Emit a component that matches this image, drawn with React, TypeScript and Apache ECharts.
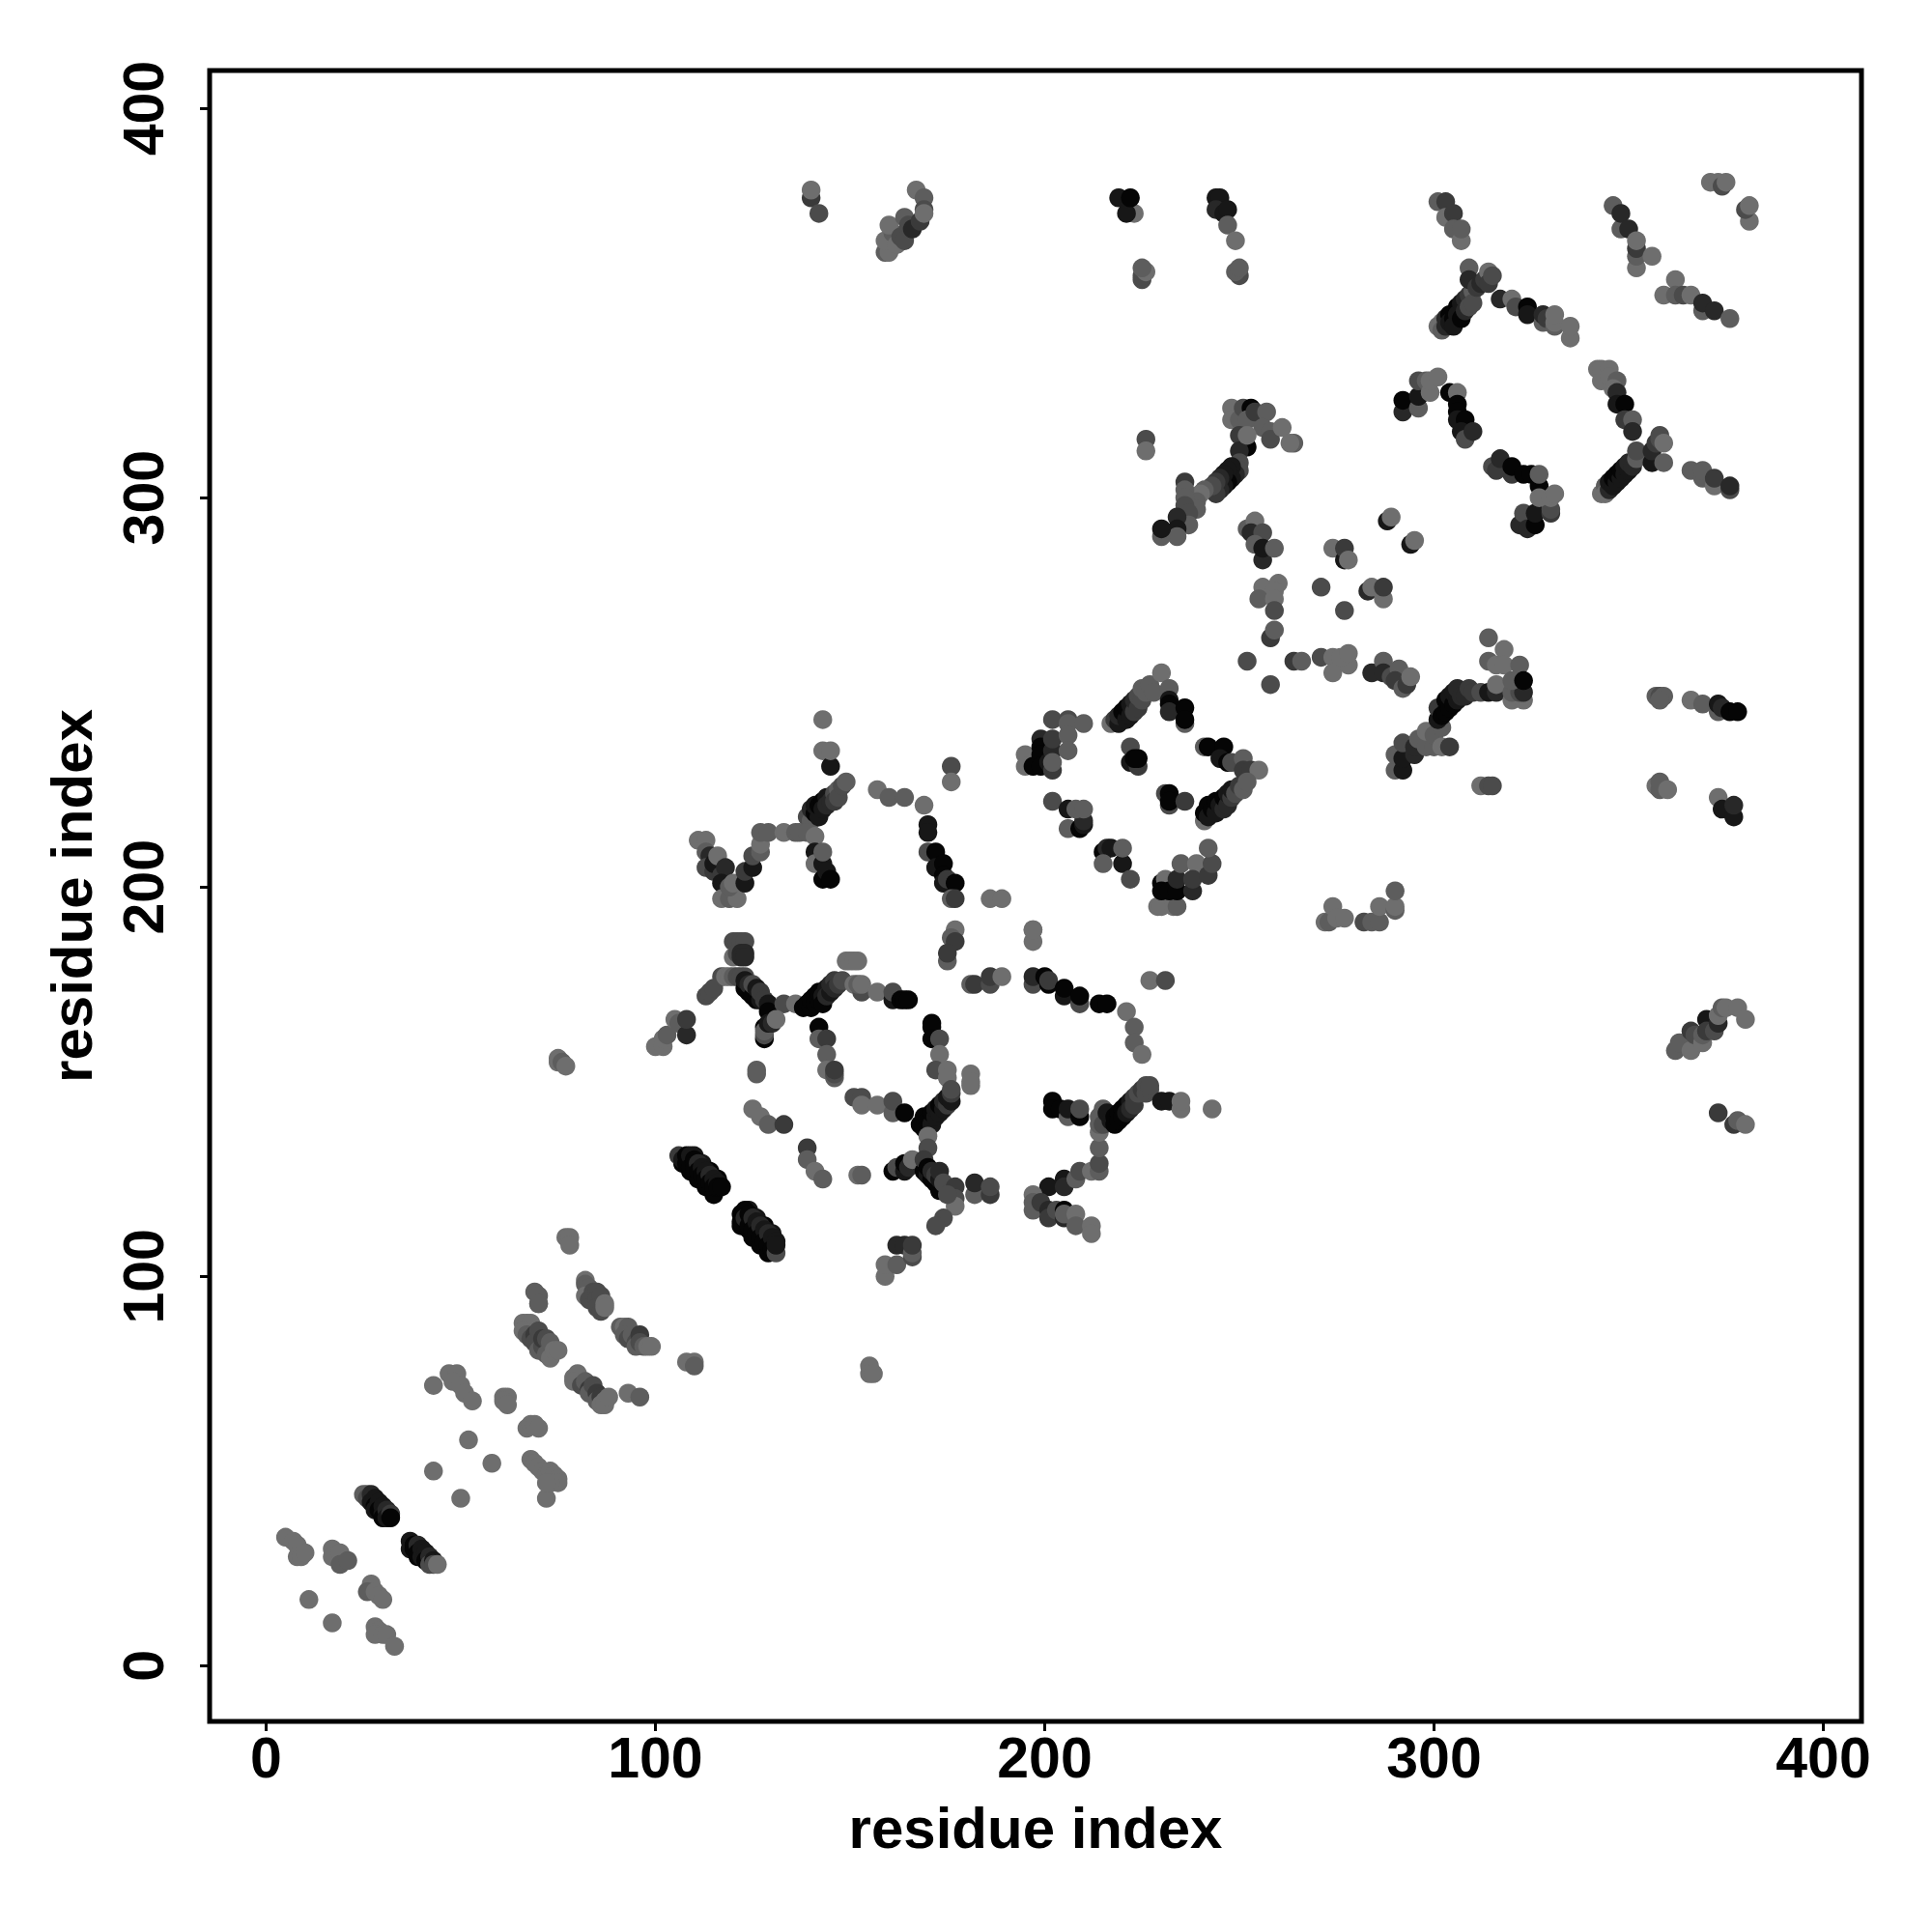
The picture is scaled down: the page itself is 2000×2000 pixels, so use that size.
import React, { useEffect, useRef } from "react";
import * as echarts from "echarts";

// every contact is [residue x, residue y, shade level]; 0 = strongest / darkest, 6 = weakest
const tickValues = [0, 100, 200, 300, 400];

const contactsN1 = [
  [11,17,6],[17,11,6],[50,43,6],[43,50,6],[58,52,6],[52,58,6],[72,43,6],
  [5,33,6],[7,32,6],[8,31,6],[8,28,6],[9,28,6],[10,29,6],
  [17,30,6],[17,28,6],[19,29,6],[19,26,5],[21,27,5],
  [27,21,6],[26,19,5],[28,19,6],[29,18,6],[30,17,6],
  [28,10,6],[29,9,6],[28,8,6],[30,8,6],[31,8,6],[33,5,6],
  [25,44,5],[26,44,5],[26,43,4],[27,44,2],[27,42,1],[28,43,1],[28,41,0],[28,40,1],[29,42,1],[29,40,0],[30,41,1],[30,39,1],[30,38,0],[31,40,2],[31,38,1],[32,39,3],[32,38,0],
  [37,32,1],[37,30,1],[38,31,0],[38,30,0],[39,31,2],[39,29,0],[39,28,0],[40,30,1],[40,28,1],[41,29,1],[41,27,0],[42,28,2],[42,26,4],[43,27,1],[43,26,4],[44,26,6],
  [68,53,6],[69,52,6],[70,51,6],[71,50,6],[72,49,6],[73,50,6],[74,49,6],[75,48,6],[75,47,6],[73,47,6],[72,47,6],
  [67,61,6],[68,62,6],[69,62,6],[70,61,6],[61,69,6],[62,69,6],[61,68,6],[62,67,6],
  [47,75,6],[49,75,6],[48,73,6],[50,72,6],[51,70,6],[53,68,6],[43,72,6],
];
const contactsN2 = [
  [79,74,6],[80,75,6],[79,73,6],[81,72,4],[82,73,5],[83,71,3],[83,70,5],[84,72,4],[85,70,3],[85,68,5],[86,69,3],[86,67,6],[87,68,6],[87,67,6],[88,69,6],
  [93,70,6],[96,69,5],[108,78,6],[110,78,6],[110,77,5],
  [66,88,6],[67,88,6],[68,88,6],[66,86,6],[67,85,5],[68,84,4],[69,85,3],[69,83,4],[70,86,4],[70,81,5],[71,82,4],[71,84,3],[72,84,4],[72,80,5],[73,83,5],[73,79,6],[74,81,6],[75,81,6],
  [91,87,5],[92,87,6],[93,87,5],[92,85,5],[93,84,4],[94,85,5],[95,83,4],[95,82,5],[96,85,3],[96,83,4],[97,82,5],[98,82,6],[99,82,6],
  [82,99,6],[82,98,5],[83,97,5],[82,95,6],[83,94,4],[84,96,4],[85,96,4],[85,94,4],[86,95,4],[85,92,4],[86,91,4],[87,93,6],[87,92,6],
  [69,96,5],[70,93,5],[77,110,6],[78,110,6],[78,108,6],[155,77,6],[155,75,6],[156,75,6],
];
const contactsHelixA = [
  [107,129,0],[109,127,0],[111,125,0],[113,123,0],[115,121,0],[110,131,1],[112,129,1],[114,127,0],[116,125,0],
  [106,131,3],[107,130,1],[108,131,0],[108,129,0],[109,131,1],[109,128,0],[110,130,0],[110,128,0],[111,129,2],[111,127,0],[112,128,1],[112,126,0],[113,127,1],[113,125,0],[114,126,2],[114,124,0],[115,125,1],[115,123,0],[116,124,1],[116,123,0],[117,123,0],
  [122,113,0],[124,112,0],[125,110,0],[127,108,0],[129,106,0],[124,117,1],[126,115,1],[128,113,0],[130,111,1],
  [122,116,0],[123,117,0],[122,114,0],[123,115,2],[124,116,0],[124,113,0],[125,115,2],[125,112,0],[126,114,1],[126,111,0],[127,113,2],[127,110,0],[128,112,1],[128,109,0],[129,111,2],[129,108,0],[130,110,1],[130,107,0],[131,106,4],[131,109,1],[131,108,1],
  [120,186,4],[121,186,4],[122,186,4],[123,186,4],[120,182,6],[121,183,4],[122,183,2],[123,183,2],[122,182,2],[123,182,2],
  [113,172,4],[114,173,4],[115,174,4],[117,177,4],[118,177,6],[119,177,6],[120,177,5],[121,177,4],[122,177,4],[123,177,4],
  [123,174,0],[123,176,1],[124,173,0],[124,175,2],[125,172,0],[125,175,4],[126,171,0],[126,174,1],[127,171,1],[127,173,3],[128,171,3],[129,170,1],[129,168,0],
  [133,170,4],[136,170,6],[128,164,0],[128,161,0],[128,162,4],[128,163,5],[129,165,1],[130,165,2],[131,166,6],[126,153,5],[126,152,5],
];
const contactsRingA = [
  [138,169,0],[139,170,0],[140,169,0],[140,171,0],[141,172,0],[141,170,0],[142,171,0],[142,173,0],[143,172,1],[143,170,0],[144,174,1],[144,172,2],[145,173,1],[145,175,2],[146,176,3],[146,174,2],[147,175,3],[148,176,4],
  [149,181,6],[150,181,6],[151,181,6],[152,181,6],[151,175,6],[153,173,4],[152,175,5],[153,175,6],[157,173,6],[161,171,1],[161,173,4],[163,171,0],[164,171,0],[165,171,0],
  [142,164,0],[142,161,5],[144,161,3],[144,157,5],[144,153,6],[146,151,5],[146,152,4],[146,153,3],
  [171,165,0],[171,164,0],[171,161,0],[173,161,4],[173,157,6],[172,153,4],[175,153,6],[175,151,6],[181,152,6],[181,149,6],[181,150,6],
  [177,189,6],[176,187,5],[177,186,3],[175,181,5],[175,183,3],[197,189,6],[197,186,6],
  [181,175,5],[182,175,3],[186,175,4],[186,177,3],[189,177,6],
  [197,175,4],[197,177,2],[200,177,0],[201,175,0],[201,176,3],[205,172,1],[205,174,0],[209,170,4],[209,172,0],[214,170,0],[216,170,0],[221,168,6],[223,164,5],[223,160,5],[225,157,6],
  [125,143,6],[127,141,6],[129,139,5],[133,139,3],[139,133,3],[139,130,5],[141,127,6],[143,125,5],[152,126,6],[153,126,5],
  [151,146,4],[153,146,4],[153,144,6],[157,144,6],[161,142,5],[161,145,4],[164,142,0],
];
const contactsRingB = [
  [168,139,0],[169,138,0],[169,141,0],[170,139,0],[170,140,0],[171,139,1],[171,142,0],[172,141,1],[172,143,1],[173,142,1],[173,144,0],[174,143,1],[174,145,2],[175,144,3],[175,146,1],[176,145,1],[176,147,3],[176,148,4],
  [170,136,6],[170,133,4],[161,127,0],[162,128,4],[164,127,1],[164,129,0],[165,128,2],[166,130,6],
  [169,127,0],[169,130,3],[170,126,1],[170,128,0],[171,125,0],[171,127,2],[172,124,0],[172,126,3],[173,122,0],[173,125,1],[173,127,2],[174,124,4],
  [177,123,3],[177,120,4],[177,118,6],[175,121,4],[174,115,4],[172,113,4],[182,121,5],[182,124,2],[186,121,3],[186,123,4],
  [159,100,6],[159,103,6],[162,103,5],[162,108,2],[164,108,2],[166,105,4],[166,106,5],[166,108,3],
  [100,159,6],[102,159,6],[102,161,6],[103,162,5],[105,166,6],[106,165,5],[108,162,2],[108,166,3],[75,155,6],[75,156,6],[76,155,5],[77,154,6],[70,95,5],[70,93,5],
  [201,123,1],[205,125,1],[205,123,2],[208,125,5],[209,127,4],[212,127,6],[214,127,5],[214,129,4],[214,133,5],[214,137,6],[214,139,5],
  [197,121,6],[197,119,5],[197,117,5],[199,119,3],[201,117,2],[201,115,3],[203,117,4],[205,117,0],[205,115,2],[205,116,5],[208,116,6],[208,113,5],[212,113,6],[212,111,6],
  [202,145,0],[202,143,0],[204,143,0],[206,141,5],[206,143,1],[209,141,0],[209,143,4],
  [214,141,5],[215,143,5],[215,139,4],[216,142,1],[217,140,1],[218,141,0],[218,139,0],[219,142,0],[219,140,0],[220,143,0],[220,141,0],[221,144,0],[221,142,1],[222,145,1],[222,143,2],[223,146,3],[223,144,3],[224,147,4],[225,148,3],[226,149,4],[226,147,4],[227,148,4],[227,149,4],
  [230,145,1],[232,145,1],[235,143,6],[235,145,6],[243,143,6],[227,176,6],[231,176,4],[186,197,6],[189,197,6],[197,189,6],
];
const contactsSquare = [
  [195,234,6],[195,231,6],[197,231,0],[199,238,2],[199,236,0],[199,234,0],[199,231,0],[201,232,1],[202,230,3],[202,235,2],[202,232,5],[202,238,3],[202,243,4],[206,243,4],[206,242,5],[206,239,5],[206,235,5],[210,242,5],
  [217,242,6],[218,243,3],[219,242,1],[219,244,2],[220,245,0],[221,243,1],[221,246,0],[222,244,1],[222,247,1],[223,245,3],[223,248,2],[224,246,3],[224,249,4],[225,248,4],[225,251,5],[226,250,5],[227,252,5],[228,250,5],[230,255,6],[232,251,5],[232,248,1],[232,247,0],[232,245,2],[236,246,0],[236,242,5],[236,243,0],
  [222,236,4],[222,232,1],[224,231,3],[223,233,0],[224,233,0],[231,224,4],[232,221,4],[232,224,0],[232,222,0],[236,222,3],
  [241,236,5],[242,236,0],[246,236,0],[245,233,1],[247,232,0],[248,232,4],[251,233,5],[251,230,3],[253,230,3],[255,230,6],
  [241,217,6],[241,219,0],[242,221,0],[242,218,1],[243,220,0],[244,219,1],[244,222,0],[245,221,1],[246,220,2],[246,223,0],[247,221,2],[247,224,1],[248,223,3],[248,225,1],[249,224,4],[250,226,3],[251,225,5],[252,227,5],
  [202,222,4],[206,220,1],[206,215,5],[209,215,0],[210,216,1],[210,217,2],[208,220,5],[210,220,5],
  [215,209,0],[216,210,2],[217,210,1],[215,206,5],[220,206,1],[220,210,5],[222,202,4],
  [229,195,6],[230,195,6],[233,195,6],[234,195,5],[230,201,0],[231,202,6],[230,199,0],[232,199,0],[234,199,0],[234,202,2],[238,199,2],[235,206,5],[239,206,6],[238,202,3],[242,203,3],[243,206,4],[242,210,5],
];
const contactsBlockC = [
  [143,243,6],[143,235,6],[145,231,1],[145,235,6],
  [139,218,4],[140,217,5],[140,220,2],[141,219,0],[141,221,1],[142,218,1],[142,221,0],[143,222,0],[143,220,1],[144,223,1],[144,221,2],[145,222,2],[146,224,4],[146,222,3],[147,225,5],[147,223,4],[148,226,4],[149,227,5],
  [111,212,6],[113,212,6],[113,209,5],[114,208,2],[113,205,4],[115,204,3],[115,206,1],[116,208,6],[117,203,3],[118,205,2],[117,201,1],[117,197,6],[119,197,5],[121,197,6],[119,200,5],[120,201,6],[123,201,1],[123,204,3],[125,205,1],[125,208,4],[127,209,5],[127,211,6],[127,214,5],[129,214,5],[133,214,6],[136,214,5],[137,214,5],[139,214,5],[141,213,6],
  [141,209,1],[141,206,6],[143,206,1],[143,209,5],[143,202,0],[144,204,1],[145,202,0],
  [157,225,6],[160,223,5],[164,223,5],[169,221,6],[170,216,1],[170,214,1],[170,209,4],[172,209,0],[172,205,1],[174,206,0],[174,203,0],[174,201,1],[175,202,3],[177,201,0],[176,197,5],[177,197,3],[176,231,4],[176,227,6],
  [226,315,4],[226,312,6],[248,323,6],[248,320,6],[250,320,5],[251,323,4],[253,323,0],[252,320,5],[254,322,3],[257,322,5],[256,318,5],[258,317,5],[258,315,4],[261,318,6],[264,314,5],[263,314,6],
  [250,316,3],[252,313,0],[250,312,2],[252,316,6],
  [250,309,4],[250,307,4],[249,306,2],[248,308,1],[248,305,1],[247,307,1],[247,304,0],[246,306,1],[246,303,1],[245,305,2],[245,302,2],[244,304,3],[244,301,3],[243,303,4],[241,302,5],[240,301,6],[239,299,5],[239,297,5],[236,304,3],[236,302,5],[236,300,5],[236,298,4],[237,296,4],[237,293,5],[234,295,2],[234,292,1],[234,290,5],[230,290,5],[230,292,1],
];
const contactsBlockD = [
  [252,292,5],[254,294,6],[253,291,2],[256,291,4],[254,288,5],[256,284,2],[256,287,1],[259,287,5],
  [256,277,6],[260,278,6],[259,276,6],[255,274,5],[259,274,6],[259,271,4],[258,264,3],[259,266,5],
  [252,258,4],[258,252,4],[264,258,3],[266,258,5],[271,277,4],[277,271,4],[271,259,4],[274,259,6],[274,255,6],[278,257,6],[276,259,6],[278,260,6],
  [274,287,6],[277,284,1],[277,287,3],[278,284,6],[283,276,2],[284,277,6],[287,274,6],[287,277,3],[288,294,1],[289,295,6],[294,288,1],[295,289,6],
  [284,255,2],[287,258,5],[287,255,2],[289,254,4],[291,256,5],[290,253,3],[292,251,5],[293,252,3],[294,254,6],
  [290,230,5],[292,230,1],[290,234,5],[292,233,1],[292,237,4],[295,234,2],[295,236,2],[296,238,5],[298,236,5],[298,240,6],[300,236,5],[300,239,5],[302,241,5],[302,236,6],[304,236,3],
  [301,243,1],[301,246,3],[302,244,0],[303,245,0],[303,248,0],[304,246,0],[304,249,1],[305,247,0],[305,250,1],[306,248,1],[306,251,2],[307,249,2],[308,249,2],[309,251,3],[310,250,3],
  [314,264,5],[318,261,6],[314,258,5],[316,257,6],[318,257,6],[322,257,5],[312,250,4],[314,250,1],[316,250,2],[316,252,6],
  [320,248,6],[323,248,6],[320,250,5],[322,250,4],[323,250,2],[320,253,5],[323,253,0],[312,226,6],[314,226,4],[315,226,4],
];
const contactsBlockE = [
  [301,376,5],[303,376,3],[303,372,6],[305,373,3],[305,369,5],[307,366,6],[307,369,5],
  [301,344,6],[302,345,6],[302,343,5],[303,346,2],[303,344,2],[304,347,0],[304,345,1],[305,346,0],[305,344,1],[306,349,0],[306,347,1],[307,350,1],[307,346,0],[308,348,2],[308,351,2],[309,352,3],[309,349,4],[310,353,5],[310,350,4],[309,359,5],[309,356,2],[311,354,3],[312,355,2],[313,356,3],[314,358,6],[314,355,3],[315,357,4],
  [317,351,2],[320,351,6],[321,349,4],[324,349,0],[324,347,1],[328,345,5],[328,347,2],[329,346,3],[331,344,5],[331,345,6],[331,347,6],[335,341,6],[335,344,6],
  [292,322,2],[292,325,0],[296,323,5],[296,326,1],[296,330,4],[298,330,5],[299,327,6],[299,330,6],[301,331,6],
  [304,327,0],[306,327,6],[306,324,0],[306,322,0],[306,320,1],[308,320,0],[307,317,1],[308,315,4],[310,317,2],
  [315,308,4],[316,307,3],[317,310,2],[320,306,3],[320,308,0],[323,306,0],[325,306,0],[327,303,0],[327,306,5],
  [322,293,2],[323,296,4],[324,292,2],[326,293,0],[326,296,1],[330,296,3],[330,297,4],[327,300,6],[330,300,6],[331,301,6],
  [342,333,6],[343,333,6],[345,333,6],[343,330,6],[345,331,6],[347,330,5],[346,328,6],[347,327,2],[347,324,1],[349,324,0],[349,320,3],[351,320,5],[351,317,2],
  [343,301,6],[344,303,5],[344,301,6],[345,302,2],[345,304,1],[346,303,1],[346,305,0],[347,304,1],[347,306,0],[348,305,1],[348,307,0],[349,306,1],[349,308,1],[350,307,1],[350,309,2],[351,308,2],[352,310,5],[352,312,4],[356,309,1],[356,312,2],[357,314,3],[358,315,4],[358,316,4],[359,309,5],[359,314,6],
  [366,307,5],[369,305,5],[369,307,5],[372,303,6],[372,305,3],[376,302,4],[376,303,2],
  [346,375,5],[348,369,5],[348,373,2],[350,369,2],[352,359,6],[352,362,5],[352,364,3],[352,366,6],[356,362,6],
  [359,352,6],[362,356,6],[362,352,5],[364,352,4],[366,352,6],[369,348,5],[369,350,2],[372,348,2],[376,346,5],
  [371,381,6],[373,381,6],[374,380,4],[375,381,6],[381,371,6],[380,374,4],[381,375,6],
];
const contactsFar = [
  [140,377,3],[140,379,6],[142,373,4],
  [159,363,5],[160,363,6],[159,366,6],[161,368,5],[160,370,6],[162,365,6],[163,367,4],[164,366,4],[164,372,5],[165,370,4],[166,369,2],[168,371,3],[167,379,6],[169,377,5],[169,374,4],[169,373,6],
  [219,377,1],[223,373,6],[221,373,1],[222,377,0],[225,356,4],[225,357,4],[226,358,6],[225,359,5],
  [244,377,1],[245,377,1],[244,374,2],[246,373,1],[247,374,1],[247,370,5],[249,366,6],[250,357,4],[249,358,5],[250,359,5],
  [357,249,5],[358,249,4],[359,249,5],[358,248,5],[366,248,6],[369,247,5],[373,245,5],[373,247,1],[374,246,2],[376,245,0],[378,245,0],
  [357,226,6],[358,225,5],[358,227,5],[360,225,6],[373,223,6],[374,220,1],[377,218,1],[377,221,2],
  [362,158,5],[363,160,5],[366,158,6],[366,163,3],[367,162,4],[369,160,6],[369,162,5],[370,166,1],[370,163,3],[372,163,4],[373,165,2],[373,167,6],[374,169,5],[375,169,6],[378,169,6],[380,166,6],
  [373,142,3],[377,139,3],[378,140,5],[380,139,6],
  [272,191,6],[273,191,5],[274,195,6],[275,192,6],[277,192,6],[282,191,4],[284,191,5],[286,191,5],[286,195,6],[290,194,5],[290,195,6],[290,199,5],
];

const contacts = [
  ...contactsN1, ...contactsN2, ...contactsHelixA, ...contactsRingA, ...contactsRingB,
  ...contactsSquare, ...contactsBlockC, ...contactsBlockD, ...contactsBlockE, ...contactsFar,
];

const FONT = "Liberation Sans";
const shadeColor = (s: number) => {
  const g = Math.round(5 + s * 17.5);
  return `rgb(${g},${g},${g})`;
};

export default function App() {
  const ref = useRef<HTMLDivElement>(null);
  useEffect(() => {
    const chart = echarts.init(ref.current!, null, { renderer: "svg" });
    const axisCommon = {
      type: "value" as const,
      name: "residue index",
      nameLocation: "middle" as const,
      nameTextStyle: { fontFamily: FONT, fontWeight: "bold" as const, fontSize: 60, color: "#000" },
      axisLine: { show: false, onZero: false },
      splitLine: { show: false },
      axisTick: { show: true, length: 10, customValues: tickValues, lineStyle: { color: "#000", width: 3 } },
    };
    chart.setOption({
      animation: false,
      backgroundColor: "#fff",
      grid: { left: 217, top: 73, width: 1710, height: 1709, show: true, borderColor: "#000", borderWidth: 5, backgroundColor: "#fff" },
      xAxis: {
        ...axisCommon,
        min: -14.5,
        max: 409.8,
        nameGap: 80,
        axisLabel: { customValues: tickValues, showMinLabel: true, showMaxLabel: true, fontFamily: FONT, fontWeight: "bold", fontSize: 59, color: "#000", margin: 8, hideOverlap: false },
      },
      yAxis: {
        ...axisCommon,
        min: -14.3,
        max: 409.7,
        nameGap: 113,
        axisLabel: { customValues: tickValues, showMinLabel: true, showMaxLabel: true, rotate: 90, fontFamily: FONT, fontWeight: "bold", fontSize: 59, color: "#000", margin: 39, hideOverlap: false },
      },
      series: [
        {
          type: "scatter",
          symbol: "circle",
          symbolSize: 19.5,
          silent: true,
          data: contacts,
          itemStyle: { opacity: 1, color: (p: any) => shadeColor(p.value[2]) },
        },
      ],
    });
    return () => chart.dispose();
  }, []);
  return <div ref={ref} style={{ position: "absolute", left: 0, top: 0, width: 2000, height: 2000 }} />;
}
